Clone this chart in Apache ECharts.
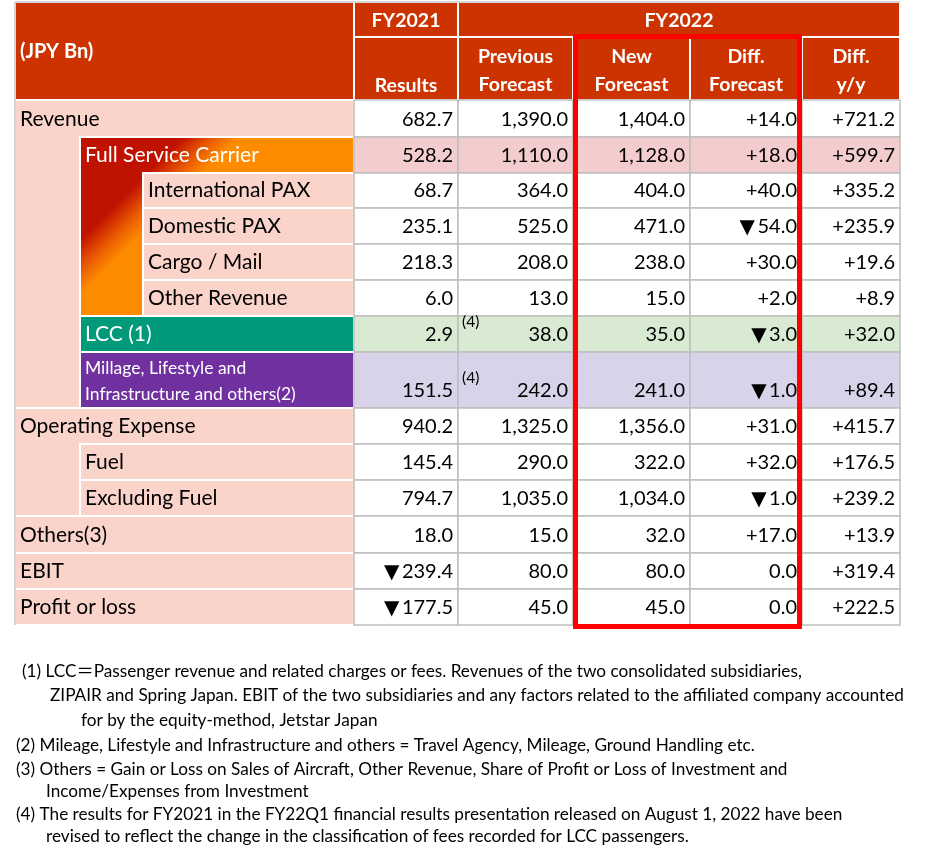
<!DOCTYPE html>
<html>
<head>
<meta charset="utf-8">
<script src="https://cdn.jsdelivr.net/npm/echarts@6/dist/echarts.min.js"></script>
<style>
  html, body { margin: 0; padding: 0; background: #fff; }
  #chart { width: 951px; height: 859px; }
</style>
</head>
<body>
<div id="chart"></div>
<script>
// ---- data ----
const unitLabel = '(JPY Bn)';
const yearHeads = ['FY2021', 'FY2022'];
const columnHeads = ['Results', 'Previous\nForecast', 'New\nForecast', 'Diff.\nForecast', 'Diff.\ny/y'];
const rowLabels = [
  'Revenue', 'Full Service Carrier', 'International PAX', 'Domestic PAX', 'Cargo / Mail',
  'Other Revenue', 'LCC (1)', 'Millage, Lifestyle and\nInfrastructure and others(2)',
  'Operating Expense', 'Fuel', 'Excluding Fuel', 'Others(3)', 'EBIT', 'Profit or loss'
];
const fy2021Results = [682.7, 528.2, 68.7, 235.1, 218.3, 6.0, 2.9, 151.5, 940.2, 145.4, 794.7, 18.0, -239.4, -177.5];
const prevForecast = [1390.0, 1110.0, 364.0, 525.0, 208.0, 13.0, 38.0, 242.0, 1325.0, 290.0, 1035.0, 15.0, 80.0, 45.0];
const newForecast = [1404.0, 1128.0, 404.0, 471.0, 238.0, 15.0, 35.0, 241.0, 1356.0, 322.0, 1034.0, 32.0, 80.0, 45.0];
const diffForecast = [14.0, 18.0, 40.0, -54.0, 30.0, 2.0, -3.0, -1.0, 31.0, 32.0, -1.0, 17.0, 0.0, 0.0];
const diffYoY = [721.2, 599.7, 335.2, 235.9, 19.6, 8.9, 32.0, 89.4, 415.7, 176.5, 239.2, 13.9, 319.4, 222.5];
const revisedMarks = [[1, 6, '(4)'], [1, 7, '(4)']]; // [column, row, mark]
const noteLines = [
  '(1) LCC＝Passenger revenue and related charges or fees. Revenues of the two consolidated subsidiaries,',
  'ZIPAIR and Spring Japan. EBIT of the two subsidiaries and any factors related to the affiliated company accounted',
  'for by the equity-method, Jetstar Japan',
  '(2) Mileage, Lifestyle and Infrastructure and others = Travel Agency, Mileage, Ground Handling etc.',
  '(3) Others = Gain or Loss on Sales of Aircraft, Other Revenue, Share of Profit or Loss of Investment and',
  'Income/Expenses from Investment',
  '(4) The results for FY2021 in the FY22Q1 financial results presentation released on August 1, 2022 have been',
  'revised to reflect the change in the classification of fees recorded for LCC passengers.'
];

// ---- layout ----
const colEdges = [15, 354, 458, 573, 690, 802, 900];
const headEdges = [2, 37, 100];
const rowEdges = [100, 137, 173, 208, 244, 280, 316, 352, 408, 444, 480, 516, 553, 589, 625];
const rowIndent = [15, 80, 143, 143, 143, 143, 80, 80, 15, 80, 80, 15, 15, 15];
const rowSpanTo = [7, 5, 2, 3, 4, 5, 6, 7, 10, 9, 10, 11, 12, 13];
const rowKind = ['', 'fsc', '', '', '', '', 'lcc', 'mil', '', '', '', '', '', ''];
const noteX = [22, 50, 81, 16, 16, 46, 16, 46];
const noteY = [671, 695, 720, 745, 769, 791, 814, 836];

const FONT = 'Lato, "DejaVu Sans", "Noto Sans CJK JP", sans-serif';
const PINK = '#FAD4CA';
const HEAD_RED = '#CC3300';
const GRID_GRAY = '#BFBFBF';
const kindFill = { lcc: '#009A7A', mil: '#7030A0' };
const rowTint = { fsc: '#F3CDCD', lcc: '#D9EAD3', mil: '#D9D3E9' };

function fmt(v) {
  return Math.abs(v).toLocaleString('en-US', { minimumFractionDigits: 1, maximumFractionDigits: 1 });
}
function fmtPlain(v) { return v < 0 ? '▼\u2009' + fmt(v) : fmt(v); }
function fmtDiff(v) { return v > 0 ? '+' + fmt(v) : v < 0 ? '▼\u2009' + fmt(v) : fmt(v); }

const valueColumns = [fy2021Results, prevForecast, newForecast, diffForecast, diffYoY];
const valueFormat = [fmtPlain, fmtPlain, fmtPlain, fmtDiff, fmtDiff];

function pt(api, x, y) { return api.coord([x, y]); }
function box(api, x0, y0, x1, y1) {
  const a = pt(api, x0, y0), b = pt(api, x1, y1);
  return { x: a[0], y: a[1], width: b[0] - a[0], height: b[1] - a[1] };
}
function fscGradient(api) {
  const a = pt(api, 160, 160), b = pt(api, 188, 188);
  return new echarts.graphic.LinearGradient(a[0], a[1], b[0], b[1], [
    { offset: 0, color: '#C01200' },
    { offset: 0.5, color: '#E65400' },
    { offset: 1, color: '#FF8C00' }
  ], true);
}

// header cells: [x0, y0, x1, y1, text, align]
const headerCells = [
  [0, 0, 1, 2, unitLabel, 'left'],
  [1, 0, 2, 1, yearHeads[0], 'center'],
  [2, 0, 6, 1, yearHeads[1], 'center']
].concat(columnHeads.map((t, i) => [i + 1, 1, i + 2, 2, t, 'center']));

function renderHeader(params, api) {
  const c = headerCells[params.dataIndex];
  const x0 = colEdges[c[0]], x1 = colEdges[c[2]], y0 = headEdges[c[1]], y1 = headEdges[c[3]];
  const children = [{
    type: 'rect', shape: box(api, x0, y0, x1, y1),
    style: { fill: HEAD_RED, stroke: '#fff', lineWidth: 2 }
  }];
  const lines = c[4].split('\n');
  let yText;
  if (c[5] === 'left') yText = [(y0 + y1) / 2 + 1];
  else if (c[1] === 0 && c[3] === 1) yText = [(y0 + y1) / 2 + 1];
  else yText = lines.length === 2 ? [y1 - 43, y1 - 15] : [y1 - 14];
  const size = c[5] === 'left' ? 20 : 19.5;
  lines.forEach((ln, k) => {
    const p = pt(api, c[5] === 'left' ? x0 + 5 : (x0 + x1) / 2, yText[k]);
    children.push({
      type: 'text',
      style: { x: p[0], y: p[1], text: ln, fill: '#fff', font: 'bold ' + size + 'px ' + FONT, align: c[5], verticalAlign: 'middle' }
    });
  });
  return { type: 'group', children };
}

function renderLabel(params, api) {
  const r = params.dataIndex;
  const kind = rowKind[r];
  const x0 = rowIndent[r], x1 = colEdges[1];
  const y0 = rowEdges[r], y1 = rowEdges[r + 1];
  const yEnd = rowEdges[rowSpanTo[r] + 1];
  const pts = rowSpanTo[r] > r
    ? [[x0, y0], [x1, y0], [x1, y1], [rowIndent[r + 1], y1], [rowIndent[r + 1], yEnd], [x0, yEnd]]
    : [[x0, y0], [x1, y0], [x1, y1], [x0, y1]];
  const fill = kind === 'fsc' ? fscGradient(api) : (kindFill[kind] || PINK);
  const children = [{
    type: 'polygon', shape: { points: pts.map(p => pt(api, p[0], p[1])) },
    style: { fill, stroke: '#fff', lineWidth: 2 }
  }];
  const lines = rowLabels[r].split('\n');
  const small = lines.length > 1;
  lines.forEach((ln, k) => {
    const p = pt(api, x0 + 5, small ? y1 - 40 + k * 26 : y1 - 17.5);
    children.push({
      type: 'text',
      style: {
        x: p[0], y: p[1], text: ln, fill: kind ? '#fff' : '#000',
        font: (small ? '17.5px ' : '21px ') + FONT, verticalAlign: 'middle'
      }
    });
  });
  return { type: 'group', children };
}

const valueCells = [];
rowLabels.forEach((_, r) => valueColumns.forEach((col, c) => valueCells.push([c, r])));

function renderValue(params, api) {
  const c = api.value(0), r = api.value(1);
  const x0 = colEdges[c + 1], x1 = colEdges[c + 2], y0 = rowEdges[r], y1 = rowEdges[r + 1];
  const p = pt(api, x1 - 5, y1 - 17.5);
  return {
    type: 'group',
    children: [{
      type: 'rect', shape: box(api, x0, y0, x1, y1),
      style: { fill: rowTint[rowKind[r]] || '#fff', stroke: GRID_GRAY, lineWidth: 1.5 }
    }, {
      type: 'text',
      style: {
        x: p[0], y: p[1], text: valueFormat[c](valueColumns[c][r]), fill: '#000',
        font: '20px ' + FONT, align: 'right', verticalAlign: 'middle'
      }
    }]
  };
}

function renderMark(params, api) {
  const m = revisedMarks[params.dataIndex];
  const p = pt(api, colEdges[m[0] + 1] + 4, rowEdges[m[1] + 1] - 30);
  return {
    type: 'text',
    style: { x: p[0], y: p[1], text: m[2], fill: '#000', font: '15.5px ' + FONT, verticalAlign: 'middle' }
  };
}

function renderFrame(params, api) {
  const a = pt(api, colEdges[0], headEdges[0]);
  const b = pt(api, colEdges[0], rowEdges[rowEdges.length - 1]);
  const c = pt(api, colEdges[colEdges.length - 1], headEdges[0]);
  const h = box(api, colEdges[3] + 2.5, headEdges[1] - 0.5, colEdges[5] - 2.5, rowEdges[rowEdges.length - 1] + 1.5);
  return {
    type: 'group',
    children: [
      { type: 'line', shape: { x1: a[0], y1: a[1], x2: b[0], y2: b[1] }, style: { stroke: '#C8C8C8', lineWidth: 1.5 } },
      { type: 'line', shape: { x1: a[0], y1: a[1], x2: c[0], y2: c[1] }, style: { stroke: '#C8C8C8', lineWidth: 1.5 } },
      { type: 'rect', shape: h, style: { fill: null, stroke: '#FF0000', lineWidth: 5 } }
    ]
  };
}

const chart = echarts.init(document.getElementById('chart'));
chart.setOption({
  animation: false,
  grid: { left: 0, right: 0, top: 0, bottom: 0 },
  xAxis: { type: 'value', min: 0, max: 951, show: false },
  yAxis: { type: 'value', min: 0, max: 859, inverse: true, show: false },
  series: [
    { type: 'custom', name: 'header', renderItem: renderHeader, data: headerCells.map((c, i) => [i, 0]) },
    { type: 'custom', name: 'labels', renderItem: renderLabel, data: rowLabels.map((t, i) => [0, i]) },
    { type: 'custom', name: 'values', renderItem: renderValue, data: valueCells },
    { type: 'custom', name: 'marks', renderItem: renderMark, data: revisedMarks.map(m => [m[0], m[1]]) },
    { type: 'custom', name: 'frame', renderItem: renderFrame, data: [[0, 0]] }
  ],
  graphic: noteLines.map((t, i) => ({
    type: 'text', x: noteX[i], y: noteY[i],
    style: { text: t, fill: '#000', font: '17.2px ' + FONT, verticalAlign: 'middle' }
  }))
});
</script>
</body>
</html>
